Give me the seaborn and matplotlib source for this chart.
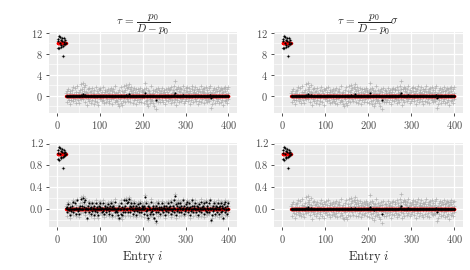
import numpy as np
import pandas as pd
import matplotlib
matplotlib.use("Agg")
import matplotlib.pyplot as plt
from matplotlib.ticker import MultipleLocator
import seaborn as sns

# ---- data -------------------------------------------------------------
n_entries = 400
n_signal = 20
signal_level = [10.0, 1.0]      # top row, bottom row
sigma = [1.0, 0.1]              # noise scale per row

# observation noise in units of sigma (entries 1..400)
noise = [
    0.3, -0.9, 0.8, 1.4, -1.0, 0.1, 1.2, -0.7, 0.6, -0.4, 1.0, 0.4, -0.5, -2.4, 0.9, -0.2, 0.2, 0.5, -0.1, 0.0,
    0.52, -1.21, 0.13, 0.87, -0.45, 1.34, -0.78, 0.05, -1.62, 0.41, 0.96, -0.23, -0.88, 1.12, 0.27, -0.54, 1.71, -1.05, 0.33, -0.12,
    -0.67, 1.45, 0.08, -1.33, 0.72, -0.19, 1.88, -0.91, 0.36, 0.61, -1.47, 0.15, 1.02, -0.38, 2.21, -0.74, 0.49, -0.06, 1.27, 2.35,
    -0.58, 0.93, 1.66, -1.14, 0.22, 2.05, -0.31, 0.77, -1.86, 0.44, 1.19, -0.63, 0.02, -1.02, 1.53, -0.27, 0.68, -1.39, 0.91, 0.17,
    -0.83, 1.36, -0.11, 0.58, -1.58, 0.29, 1.07, -0.49, -0.95, 1.62, 0.11, -1.24, 0.85, -0.36, 0.47, -1.71, 1.24, 0.06, -0.69, 0.98,
    1.41, -0.52, 0.21, -1.09, 0.74, -0.16, 1.58, -0.87, 0.39, -1.44, 0.63, 1.15, -0.29, 0.03, -1.18, 0.88, -0.61, 1.31, 0.24, -0.97,
    0.56, -1.35, 1.09, -0.07, -0.72, 1.48, 0.32, -1.53, 0.81, -0.41, 1.22, -0.18, 0.67, -1.27, 0.09, 1.76, -0.84, 0.43, -1.06, 0.19,
    -1.67, 0.71, -0.34, -1.92, 1.03, -0.58, 0.26, -1.41, 1.57, -0.13, -1.78, 0.94, 0.37, -1.12, 1.84, -0.46, 0.62, -1.29, 1.12, 0.04,
    1.97, -0.65, 1.38, 0.18, -1.07, 1.69, 0.53, 2.12, -0.39, 1.26, -1.21, 0.84, 1.61, -0.24, 0.47, -1.36, 1.05, 0.31, -0.81, 1.49,
    -0.43, 0.76, -1.55, 0.12, 1.17, -0.92, 0.58, -0.27, 1.32, -1.16, 0.39, 0.89, -0.71, 1.43, -0.08, -1.25, 0.64, 1.08, -0.52, 0.27,
    0.83, -1.46, 1.21, -0.34, 2.48, 0.61, -0.95, 1.37, -1.63, 0.15, -0.77, 1.02, -2.04, 0.46, 0.92, -1.38, 0.28, -0.59, 1.74, -1.11,
    0.35, -0.86, 1.13, -1.49, 0.57, 0.04, -1.92, 0.79, -0.33, 1.29, -1.02, -2.62, 0.68, -0.41, 1.51, -1.23, 0.19, 0.97, -0.64, 0.42,
    -1.31, 0.86, 0.13, -0.78, 1.39, -0.21, 0.54, -1.17, 0.73, 1.06, -0.49, -1.58, 0.32, 1.18, -0.87, 0.61, -0.15, 1.44, -1.04, 0.25,
    0.97, -0.38, 1.27, -0.69, 0.14, -1.41, 1.65, 0.48, -0.92, 1.09, 0.22, -1.19, 0.76, 1.83, 2.71, -0.57, 1.31, -1.74, 0.39, 1.18,
    -0.82, 1.56, 0.07, -1.27, 0.91, 1.42, -0.46, 0.64, -1.05, 1.24, 0.33, -0.71, 1.88, -0.28, 0.51, -1.36, 1.12, 0.19, -0.95, 0.72,
    1.35, -0.59, 0.84, 1.72, -1.13, 0.26, -0.44, 1.49, 0.58, -1.61, 0.93, 0.11, -0.83, 1.26, -0.35, 1.91, 0.45, -1.24, 0.68, 1.04,
    -0.74, 0.29, 1.58, -1.08, 0.47, -0.18, 1.16, -1.52, 0.87, 0.36, -0.97, 1.33, -0.25, 0.62, 1.79, -1.29, 0.08, 0.95, -0.66, 1.21,
    0.43, -1.43, 0.77, 1.37, -0.53, 0.15, 1.68, -0.89, 0.52, -1.18, 1.09, 0.31, -0.72, 1.45, -1.01, 0.66, 1.86, -0.37, 0.21, -2.31,
    -1.69, 0.58, -0.24, 1.14, -0.87, 0.39, 1.52, -1.33, 0.71, -0.46, 1.23, 0.06, -1.07, 0.94, 1.61, -0.61, 0.28, -1.48, 0.83, 1.02,
    -0.34, 1.47, -1.21, 0.55, 1.18, -0.93, -1.86, 0.64, 1.35, -0.17, 0.89, -1.04, 1.72, 0.37, -0.79, 1.26, -1.38, 0.49, 1.54, -0.65,
]

# estimates with tau scaled to sigma (units of sigma): signal block + few nonzero entries
est_signal = [10.3, 9.1, 10.8, 11.4, 9.0, 10.1, 11.2, 9.3, 10.6, 9.6,
              11.0, 10.4, 9.5, 7.6, 10.9, 9.8, 10.2, 10.5, 9.9, 10.0]
est_nz_entry = [55, 60, 66, 144, 161, 168, 205, 213, 232, 274, 275, 293, 357, 360]
est_nz_value = [0.15, 0.3, 0.2, -0.1, 0.15, 0.25, 0.4, -0.15, -0.85, 0.15, 0.55, 0.1, 0.1, -0.5]

# estimates for sigma = 0.1 with unscaled tau (bottom-left panel)
est_bottom_left = [
    1.03, 0.91, 1.08, 1.14, 0.90, 1.01, 1.12, 0.93, 1.06, 0.96, 1.10, 1.04, 0.95, 0.76, 1.09, 0.98, 1.02, 1.05, 0.99, 1.00,
    0.01, -0.05, 0, 0.04, 0, 0.09, -0.02, 0, -0.11, 0, 0.04, 0, -0.04, 0.05, 0, -0.01, 0.12, -0.05, 0, 0,
    -0.01, 0.10, 0, -0.09, 0.01, 0, 0.16, -0.04, 0, 0.01, -0.10, 0, 0.05, 0, 0.19, -0.01, 0, 0, 0.06, 0.20,
    -0.01, 0.04, 0.12, -0.05, 0, 0.17, 0, 0.02, -0.16, 0, 0.05, -0.01, 0, -0.05, 0.11, 0, 0.01, -0.10, 0.04, 0,
    -0.04, 0.10, 0, 0.01, -0.11, 0, 0.05, 0, -0.04, 0.11, 0, -0.06, 0.04, 0, 0, -0.12, 0.06, 0, -0.01, 0.04,
    0.10, -0.01, 0, -0.05, 0.01, 0, 0.11, -0.04, 0, -0.10, 0.01, 0.05, 0, 0, -0.05, 0.04, -0.01, 0.09, 0, -0.04,
    0.01, -0.09, 0.05, 0, -0.01, 0.10, 0, -0.11, 0.04, 0, 0.05, 0, 0.01, -0.06, 0, 0.12, -0.04, 0, -0.05, 0,
    -0.12, 0.01, 0, -0.16, 0.05, -0.01, 0, -0.10, 0.11, 0, -0.12, 0.04, 0, -0.05, 0.16, 0, 0.01, -0.06, 0.05, 0,
    0.17, -0.01, 0.10, 0, -0.05, 0.12, 0.01, 0.18, 0, 0.06, -0.05, 0.04, 0.11, 0, 0, -0.10, 0.05, 0, -0.04, 0.10,
    0, 0.02, -0.11, 0, 0.05, -0.04, 0.01, 0, 0.09, -0.05, 0, 0.04, -0.01, 0.10, 0, -0.06, 0.01, 0.05, -0.01, 0,
    0.04, -0.10, 0.05, 0, 0.21, 0.01, -0.04, 0.10, -0.11, 0, -0.02, 0.05, -0.17, 0, 0.04, -0.10, 0, -0.01, 0.12, -0.05,
    0, -0.04, 0.05, -0.10, 0.01, 0, -0.16, 0.02, 0, 0.06, -0.05, -0.22, 0.01, 0, 0.11, -0.06, 0, 0.04, -0.01, 0,
    -0.09, 0.04, 0, -0.02, 0.10, 0, 0.01, -0.05, 0.01, 0.05, 0, -0.11, 0, 0.05, -0.04, 0.01, 0, 0.10, -0.05, 0,
    0.04, 0, 0.06, -0.01, 0, -0.10, 0.12, 0, -0.04, 0.05, 0, -0.05, 0.02, 0.16, 0.23, -0.01, 0.09, -0.12, 0, 0.05,
    -0.04, 0.11, 0, -0.06, 0.04, 0.10, 0, 0.01, -0.05, 0.06, 0, -0.01, 0.16, 0, 0.01, -0.10, 0.05, 0, -0.04, 0.01,
    0.09, -0.01, 0.04, 0.12, -0.05, 0, 0, 0.10, 0.01, -0.11, 0.04, 0, -0.04, 0.06, 0, 0.16, 0, -0.06, 0.01, 0.05,
    -0.01, 0, 0.11, -0.05, 0, 0, 0.05, -0.11, 0.04, 0, -0.04, 0.09, 0, 0.01, 0.13, -0.06, 0, 0.04, -0.01, 0.05,
    0, -0.10, 0.02, 0.10, -0.01, 0, 0.12, -0.04, 0.01, -0.05, 0.05, 0, -0.01, 0.10, -0.05, 0.01, 0.16, 0, 0, -0.20,
    -0.12, 0.01, 0, 0.05, -0.04, 0, 0.11, -0.09, 0.01, 0, 0.06, 0, -0.05, 0.04, 0.11, -0.01, 0, -0.10, 0.04, 0.05,
    0, 0.10, -0.05, 0.01, 0.05, -0.04, -0.16, 0.01, 0.09, 0, 0.04, -0.05, 0.12, 0, -0.02, 0.06, -0.10, 0, 0.11, -0.01,
]

titles = [r"$\tau\, =\, \dfrac{p_0}{D-p_0}$", r"$\tau\, =\, \dfrac{p_0}{D-p_0}\sigma$"]
y_major = [4, 0.4]
x_label = r"Entry $i$"

# ---- style ------------------------------------------------------------
sns.set_theme(style="darkgrid", rc={
    "axes.facecolor": "#EBEBEB",
    "grid.color": "white",
    "axes.edgecolor": "#EBEBEB",
})
plt.rcParams["font.family"] = "serif"
plt.rcParams["font.serif"] = ["cmr10", "DejaVu Serif"]
plt.rcParams["mathtext.fontset"] = "cm"
plt.rcParams["axes.formatter.use_mathtext"] = True

entry = np.arange(1, n_entries + 1)
noise = np.asarray(noise)
est_scaled = np.zeros(n_entries)
est_scaled[:n_signal] = est_signal
est_scaled[np.asarray(est_nz_entry) - 1] = est_nz_value

fig = plt.figure(figsize=(4.7, 2.7), dpi=100)
col_x = [(49, 237), (274, 463)]
row_y = [(32, 113), (143, 227)]

for r in range(2):
    truth = np.zeros(n_entries)
    truth[:n_signal] = signal_level[r]
    obs = truth + noise * sigma[r]
    for c in range(2):
        x0, x1 = col_x[c]
        y0, y1 = row_y[r]
        ax = fig.add_axes([x0 / 470, 1 - y1 / 270, (x1 - x0) / 470, (y1 - y0) / 270])
        if r == 1 and c == 0:
            est = np.asarray(est_bottom_left)
        else:
            est = est_scaled * sigma[r] if r == 1 else est_scaled
        df = pd.DataFrame({"entry": entry, "obs": obs, "truth": truth, "est": est})
        sns.scatterplot(data=df, x="entry", y="obs", ax=ax, marker="+", s=6,
                        color="#A6A6A6", alpha=0.8, linewidth=0.5)
        sns.scatterplot(data=df, x="entry", y="truth", ax=ax, marker="o", s=6,
                        color="red", linewidth=0)
        sns.scatterplot(data=df, x="entry", y="est", ax=ax, marker="o", s=2.4,
                        color="black", linewidth=0)
        ax.margins(x=0.05, y=0.05)
        ax.xaxis.set_major_locator(MultipleLocator(100))
        ax.xaxis.set_minor_locator(MultipleLocator(50))
        ax.yaxis.set_major_locator(MultipleLocator(y_major[r]))
        ax.yaxis.set_minor_locator(MultipleLocator(y_major[r] / 2))
        if r == 1:
            ax.yaxis.set_major_formatter(matplotlib.ticker.FormatStrFormatter("%.1f"))
        ax.grid(which="major", color="white", linewidth=0.9)
        ax.grid(which="minor", color="white", linewidth=0.45)
        ax.set_axisbelow(True)
        for sp in ax.spines.values():
            sp.set_visible(False)
        ax.tick_params(which="major", length=2.2, width=0.6, color="#333333",
                       labelcolor="#4D4D4D", labelsize=7.5, pad=2, left=True, bottom=True)
        ax.tick_params(which="minor", length=0)
        ax.set_ylabel("")
        ax.set_xlabel(x_label if r == 1 else "", fontsize=9, labelpad=3)
        if r == 0:
            ax.set_title(titles[c], fontsize=8, pad=5)

fig.savefig("out.png", dpi=100)
